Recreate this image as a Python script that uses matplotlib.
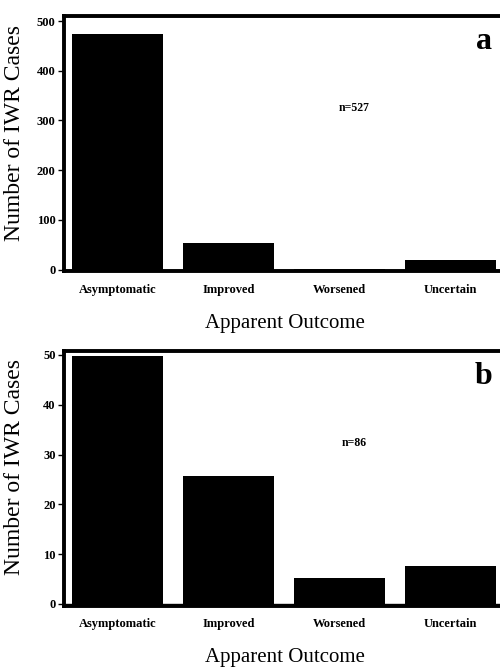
import numpy as np
import matplotlib
matplotlib.use("Agg")
import matplotlib.pyplot as plt

CATEGORIES = ["Asymptomatic", "Improved", "Worsened", "Uncertain"]
COUNTS_A = [474, 54, 1, 19]
COUNTS_B = [49.7, 25.7, 5.3, 7.7]
N_A = "n=527"
N_B = "n=86"

plt.rcParams["font.family"] = ["Liberation Serif", "DejaVu Serif"]

fig = plt.figure(figsize=(5.0, 6.68), dpi=100)
ax_a = fig.add_axes([0.128, 0.5943, 0.884, 0.3817])
ax_b = fig.add_axes([0.128, 0.0933, 0.884, 0.3813])

panels = [
    (ax_a, COUNTS_A, N_A, "a", (-3, 510), [0, 100, 200, 300, 400, 500]),
    (ax_b, COUNTS_B, N_B, "b", (-0.35, 50.8), [0, 10, 20, 30, 40, 50]),
]

x = np.arange(len(CATEGORIES))
for ax, vals, ntxt, tag, ylim, yt in panels:
    ax.bar(x, vals, width=0.82, color="black", zorder=2)
    ax.axhline(0, color="black", lw=1.0, zorder=1)
    ax.set_xlim(-0.48, 3.5)
    ax.set_ylim(*ylim)
    ax.set_yticks(yt)
    ax.set_xticks(x)
    ax.set_xticklabels(CATEGORIES, fontsize=9, fontweight="bold")
    for lbl in ax.get_yticklabels():
        lbl.set_fontsize(9)
        lbl.set_fontweight("bold")
    ax.tick_params(axis="x", length=0, pad=9)
    ax.tick_params(axis="y", length=4.5, width=1, pad=1.5, direction="out")
    for sp in ax.spines.values():
        sp.set_linewidth(2.8)
    ax.set_ylabel("Number of IWR Cases", fontsize=17)
    ax.yaxis.set_label_coords(-0.088, 0.543)
    ax.set_xlabel("Apparent Outcome", fontsize=15, labelpad=13)
    ax.text(0.656, 0.64, ntxt, transform=ax.transAxes, ha="center", va="center",
            fontsize=8.5, fontweight="bold")
    ax.text(0.95, 0.87, tag, transform=ax.transAxes, ha="center", va="baseline",
            fontsize=23, fontweight="bold")

fig.savefig("out.png", dpi=100)
